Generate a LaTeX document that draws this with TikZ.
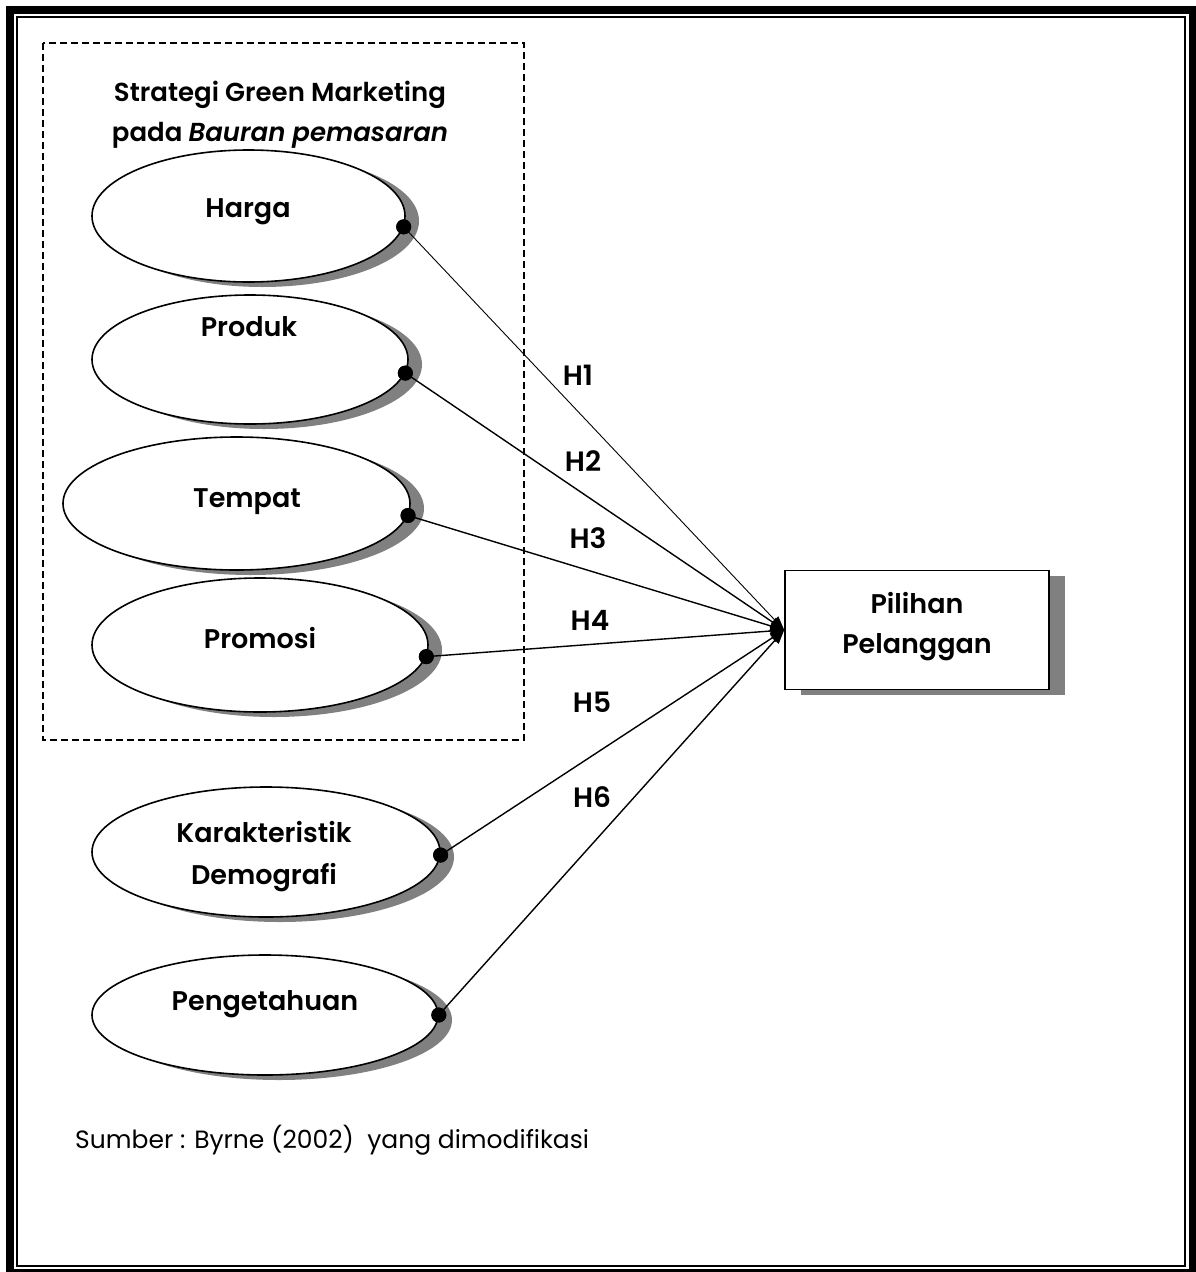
\documentclass[tikz,border=0pt]{standalone}
\usepackage{fontspec}
\setmainfont{Poppins}[BoldFont={* SemiBold},BoldItalicFont={* SemiBold Italic}]
\usetikzlibrary{shapes.geometric,shadows,arrows.meta}
\definecolor{shadowgray}{HTML}{808080}
\begin{document}
\begin{tikzpicture}[x=1pt,y=-1pt,
  oval/.style={ellipse,draw,line width=1.6pt,fill=white,inner sep=0pt,
    drop shadow={shadow xshift=14pt,shadow yshift=-5pt,fill=shadowgray,opacity=1}},
  outbox/.style={rectangle,draw,line width=1.6pt,fill=white,inner sep=0pt,
    minimum width=264pt,minimum height=119pt,align=center,
    font=\bfseries\fontsize{27}{40}\selectfont,
    drop shadow={shadow xshift=16pt,shadow yshift=-5pt,fill=shadowgray,opacity=1}},
  lbl/.style={inner sep=0pt,anchor=base,align=center,font=\bfseries\fontsize{27}{42}\selectfont},
  hyp/.style={inner sep=0pt,font=\bfseries\fontsize{28}{30}\selectfont},
  dot/.style={circle,fill=black,inner sep=0pt,minimum size=15pt},
  conn/.style={line width=1.4pt,-{Triangle[length=14pt,width=10pt]}},
  thinconn/.style={conn,line width=0.9pt},
  groupframe/.style={line width=1.3pt,dash pattern=on 7pt off 4pt}
]
\useasboundingbox (0,0) rectangle (1196,1272);

% page frame: thick outer rule and thin inner rule
\draw[line width=8pt] (10,10) rectangle (1193,1273);
\draw[line width=2pt] (17,17) rectangle (1185,1266);

% marketing-mix group
\draw[groupframe] (43,43) rectangle (524,740);
\node[inner sep=0pt,align=center,font=\bfseries\fontsize{26}{40}\selectfont] (title) at (280,115)
  {Strategi Green Marketing\\pada \textit{Bauran pemasaran}};

% latent variables
\node[oval,minimum width=313pt,minimum height=132pt] (harga)  at (248.5,216) {};
\node[oval,minimum width=316pt,minimum height=129pt] (produk) at (250,359.5) {};
\node[oval,minimum width=347pt,minimum height=133pt] (tempat) at (236.5,503.5) {};
\node[oval,minimum width=336pt,minimum height=134pt] (promosi) at (260,645) {};
\node[oval,minimum width=348pt,minimum height=130pt] (demo)   at (266,852) {};
\node[oval,minimum width=346pt,minimum height=120pt] (tahu)   at (265,1015) {};

% labels sit on their (last) baseline
\node[lbl] (tharga)   at (248,217) {Harga};
\node[lbl] (tproduk)  at (249,336) {Produk};
\node[lbl] (ttempat)  at (247,507) {Tempat};
\node[lbl] (tpromosi) at (260,648) {Promosi};
\node[lbl] (tdemo)    at (264,884) {Karakteristik\\Demografi};
\node[lbl] (ttahu)    at (265,1010) {Pengetahuan};

% dependent variable
\node[outbox] (pilihan) at (917,630) {Pilihan\\Pelanggan\\[-25pt]\mbox{}};

% connector start points
\node[dot] (dharga)   at (harga.-4)   {};
\node[dot] (dproduk)  at (produk.-5)  {};
\node[dot] (dtempat)  at (tempat.-4)  {};
\node[dot] (dpromosi) at (promosi.-4) {};
\node[dot] (ddemo)    at (demo.-1)    {};
\node[dot] (dtahu)    at (tahu.0)     {};

% hypothesised paths
\draw[thinconn] (dharga.center)   -- (pilihan.west);
\draw[conn]     (dproduk.center)  -- (pilihan.west);
\draw[conn]     (dtempat.center)  -- (pilihan.west);
\draw[conn]     (dpromosi.center) -- (pilihan.west);
\draw[conn]     (ddemo.center)    -- (pilihan.west);
\draw[conn]     (dtahu.center)    -- (pilihan.west);
\node[dot] at (dharga) {};
\node[dot] at (dproduk) {};
\node[dot] at (dtempat) {};
\node[dot] at (dpromosi) {};
\node[dot] at (ddemo) {};
\node[dot] at (dtahu) {};

\node[hyp] (h1) at (578,375) {H1};
\node[hyp] (h2) at (583,461) {H2};
\node[hyp] (h3) at (588,538) {H3};
\node[hyp] (h4) at (590,620) {H4};
\node[hyp] (h5) at (592,702) {H5};
\node[hyp] (h6) at (592,797) {H6};

% source note
\node[inner sep=0pt,anchor=west,font=\fontsize{25}{28}\selectfont] (src) at (75,1140)
  {Sumber : Byrne (2002)\ \ yang dimodifikasi};
\end{tikzpicture}
\end{document}
